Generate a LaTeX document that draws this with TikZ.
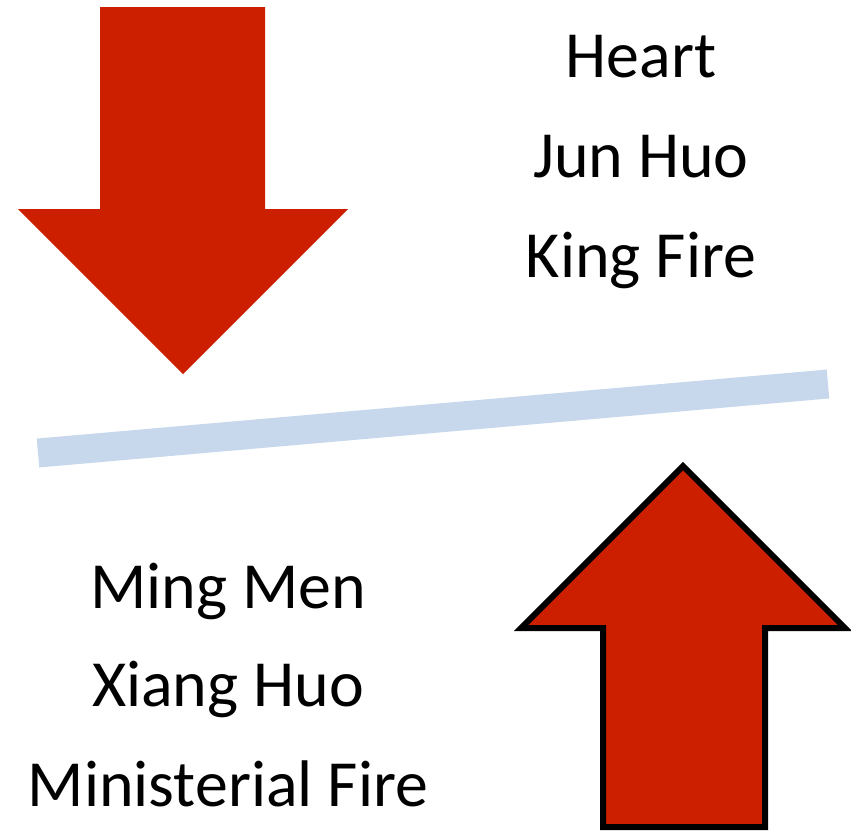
\documentclass[tikz,border=0pt]{standalone}
\usepackage{fontspec}
\setmainfont{Carlito}
\definecolor{firered}{RGB}{204,31,0}
\definecolor{divider}{RGB}{199,216,237}

\begin{document}
\begin{tikzpicture}[x=0.02cm,y=-0.02cm,
    lbl/.style={anchor=base,inner sep=0pt,font=\fontsize{37.5}{45}\selectfont},
    bigarrow/.style={fill=firered,line join=miter}]
    \useasboundingbox (0,0) rectangle (851,833);
    % sinking arrow, top left
    \fill [bigarrow] (100,7) -- (265,7) -- (265,209) -- (348,209) -- (183,374)
        -- (18,209) -- (100,209) -- cycle;
    % rising arrow, bottom right
    \filldraw [bigarrow,draw=black,line width=0.12cm] (683,466) -- (845,628) -- (765,628)
        -- (765,827) -- (603,827) -- (603,628) -- (521,628) -- cycle;
    % the divide
    \coordinate (LeftEnd) at (38,453);
    \coordinate (RightEnd) at (828,384);
    \draw [divider,line width=0.58cm] (LeftEnd) -- (RightEnd);
    \node [lbl] (Heart) at (641,77) {Heart};
    \node [lbl] (JunHuo) at (641,177) {Jun Huo};
    \node [lbl] (KingFire) at (641,277) {King Fire};
    \node [lbl] (MingMen) at (228,608) {Ming Men};
    \node [lbl] (XiangHuo) at (228,706) {Xiang Huo};
    \node [lbl] (MinisterialFire) at (228,806) {Ministerial Fire};
\end{tikzpicture}
\end{document}
